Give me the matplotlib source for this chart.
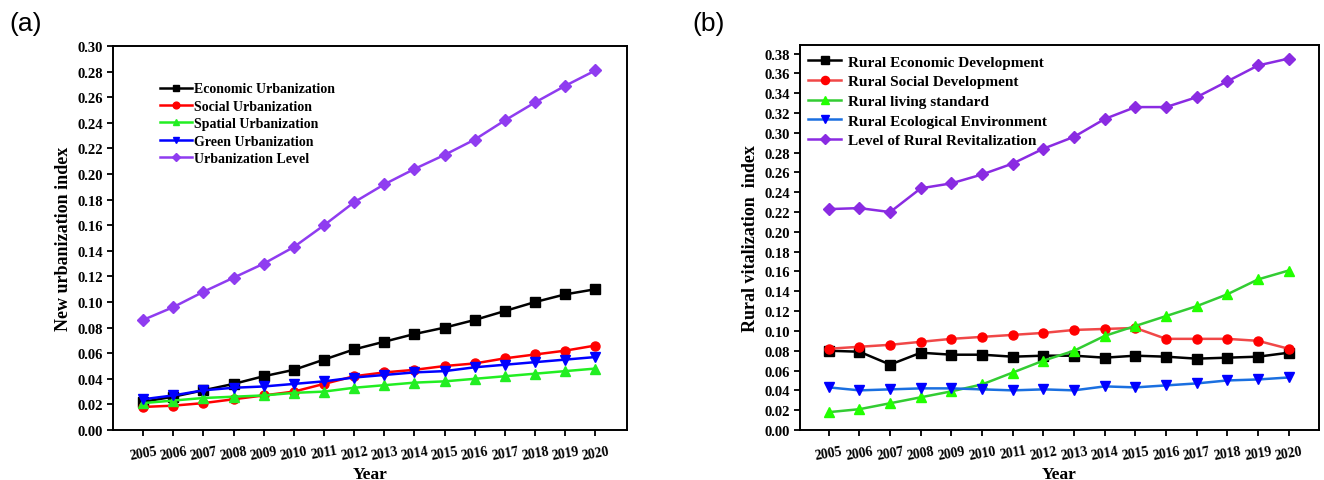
import matplotlib
matplotlib.use("Agg")
import matplotlib.pyplot as plt
import numpy as np

years = list(range(2005, 2021))

# Panel (a)
urb_labels = ["Economic Urbanization", "Social Urbanization", "Spatial Urbanization",
              "Green Urbanization", "Urbanization Level"]
econ_urb = [0.022, 0.026, 0.031, 0.036, 0.042, 0.047, 0.055, 0.063, 0.069, 0.075, 0.080, 0.086, 0.093, 0.100, 0.106, 0.110]
social_urb = [0.018, 0.019, 0.021, 0.024, 0.027, 0.030, 0.036, 0.042, 0.045, 0.047, 0.050, 0.052, 0.056, 0.059, 0.062, 0.066]
spatial_urb = [0.021, 0.023, 0.025, 0.026, 0.027, 0.029, 0.030, 0.033, 0.035, 0.037, 0.038, 0.040, 0.042, 0.044, 0.046, 0.048]
green_urb = [0.024, 0.027, 0.031, 0.033, 0.034, 0.036, 0.038, 0.041, 0.043, 0.045, 0.046, 0.049, 0.051, 0.053, 0.055, 0.057]
urb_level = [0.086, 0.096, 0.108, 0.119, 0.130, 0.143, 0.160, 0.178, 0.192, 0.204, 0.215, 0.227, 0.242, 0.256, 0.269, 0.281]

# Panel (b)
rur_labels = ["Rural Economic Development", "Rural Social Development", "Rural living standard",
              "Rural Ecological Environment", "Level of Rural Revitalization"]
rur_econ = [0.080, 0.079, 0.066, 0.078, 0.076, 0.076, 0.074, 0.075, 0.075, 0.073, 0.075, 0.074, 0.072, 0.073, 0.074, 0.078]
rur_social = [0.082, 0.084, 0.086, 0.089, 0.092, 0.094, 0.096, 0.098, 0.101, 0.102, 0.103, 0.092, 0.092, 0.092, 0.090, 0.082]
rur_living = [0.018, 0.021, 0.027, 0.033, 0.039, 0.046, 0.058, 0.070, 0.080, 0.095, 0.105, 0.115, 0.125, 0.137, 0.152, 0.161]
rur_eco = [0.043, 0.040, 0.041, 0.042, 0.042, 0.041, 0.040, 0.041, 0.040, 0.044, 0.043, 0.045, 0.047, 0.050, 0.051, 0.053]
rur_level = [0.223, 0.224, 0.220, 0.244, 0.249, 0.258, 0.269, 0.284, 0.296, 0.314, 0.326, 0.326, 0.336, 0.352, 0.368, 0.375]

serif = "Liberation Serif"

fig = plt.figure(figsize=(13.24, 4.81), dpi=100)
axa = fig.add_axes([0.0853, 0.104, 0.3883, 0.798])
axb = fig.add_axes([0.604, 0.104, 0.392, 0.800])

markers = ["s", "o", "^", "v", "D"]

cols_a = ["#000000", "#ff0000", "#22ee22", "#0000ff", "#8f3cf0"]
series_a = [econ_urb, social_urb, spatial_urb, green_urb, urb_level]
for s, lab, c, m in zip(series_a, urb_labels, cols_a, markers):
    axa.plot(years, s, color=c, marker=m, markersize=6.5 if m != "D" else 6,
             lw=1.8, label=lab, markerfacecolor=c, markeredgecolor=c)

line_b = ["#000000", "#f04848", "#33cc33", "#1a6fe0", "#8a2be2"]
mk_b = ["#000000", "#ff0000", "#22ff00", "#0000ff", "#8a2be2"]
series_b = [rur_econ, rur_social, rur_living, rur_eco, rur_level]
for s, lab, c, mc, m in zip(series_b, rur_labels, line_b, mk_b, markers):
    axb.plot(years, s, color=c, marker=m, markersize=6.5 if m != "D" else 6,
             lw=1.8, label=lab, markerfacecolor=mc, markeredgecolor=mc)

axa.set_xlim(2004.0, 2021.05)
axa.set_ylim(0, 0.30)
axa.set_yticks(np.arange(0, 0.301, 0.02))
axb.set_xlim(2004.05, 2020.98)
axb.set_ylim(0, 0.3885)
axb.set_yticks(np.arange(0, 0.381, 0.02))

for ax in (axa, axb):
    ax.set_xticks(years)
    ax.set_xticklabels([str(y) for y in years], rotation=10, fontsize=10,
                       fontfamily=serif, fontweight="bold")
    ax.set_yticklabels(["%.2f" % v for v in ax.get_yticks()], fontsize=10.5,
                       fontfamily=serif, fontweight="bold")
    ax.tick_params(direction="out", length=4, width=1.3, top=False, right=False, pad=3)
    ax.tick_params(axis="x", pad=6)
    for sp in ax.spines.values():
        sp.set_linewidth(1.4)
    ax.set_xlabel("Year", fontsize=12.5, fontfamily=serif, fontweight="bold", labelpad=3)

axa.set_ylabel("New urbanization index", fontsize=13, fontfamily=serif, fontweight="bold", labelpad=4)
axb.set_ylabel("Rural vitalization  index", fontsize=13, fontfamily=serif, fontweight="bold", labelpad=4)

axa.legend(loc="upper left", bbox_to_anchor=(0.08, 0.92), frameon=False,
           prop={"family": serif, "weight": "bold", "size": 10},
           handlelength=2.3, handletextpad=0.2, labelspacing=0.32, borderaxespad=0,
           markerscale=0.75)
axb.legend(loc="upper left", bbox_to_anchor=(0.005, 0.99), frameon=False,
           prop={"family": serif, "weight": "bold", "size": 11},
           handlelength=2.15, handletextpad=0.45, labelspacing=0.39, borderaxespad=0,
           markerscale=0.9)

fig.text(0.007, 0.975, "(a)", fontsize=19, fontfamily="Liberation Sans", va="top", ha="left")
fig.text(0.523, 0.975, "(b)", fontsize=19, fontfamily="Liberation Sans", va="top", ha="left")

fig.savefig("out.png", dpi=100)
